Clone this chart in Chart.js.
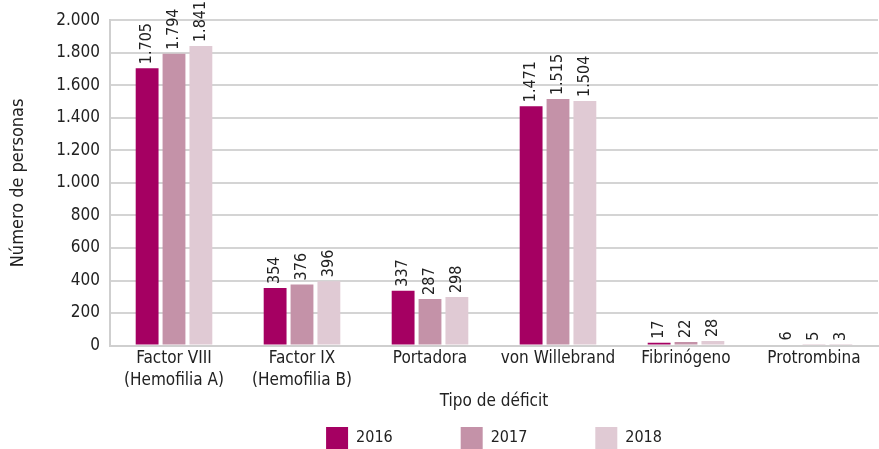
<!DOCTYPE html>
<html>
<head>
<meta charset="utf-8">
<script src="https://cdn.jsdelivr.net/npm/chart.js@4/dist/chart.umd.min.js"></script>
<style>
  html, body { margin: 0; padding: 0; background: #fff; }
  #wrap { width: 879px; height: 449px; }
</style>
</head>
<body>
<div id="wrap"><canvas id="bar-chart"></canvas></div>
<script>
var categories = [["Factor VIII", "(Hemofilia A)"], ["Factor IX", "(Hemofilia B)"], "Portadora", "von Willebrand", "Fibrinógeno", "Protrombina"];
var years = ["2016", "2017", "2018"];
var values2016 = [1705, 354, 337, 1471, 17, 6];
var values2017 = [1794, 376, 287, 1515, 22, 5];
var values2018 = [1841, 396, 298, 1504, 28, 3];
var yTicks = [0, 200, 400, 600, 800, 1000, 1200, 1400, 1600, 1800, 2000];

var colors = ["#a50062", "#c492a8", "#e0cad4"];
var fontFamily = "'Liberation Sans Narrow', 'DejaVu Sans Condensed', sans-serif";

function formatNumber(n) {
  return String(n).replace(/\B(?=(\d{3})+(?!\d))/g, ".");
}

// etiquetas de valor giradas encima de cada barra
var valueLabels = {
  id: "valueLabels",
  afterDatasetsDraw: function (chart) {
    var ctx = chart.ctx;
    ctx.save();
    ctx.font = "16px " + fontFamily;
    ctx.fillStyle = "#222";
    ctx.textAlign = "left";
    ctx.textBaseline = "middle";
    chart.data.datasets.forEach(function (ds, i) {
      chart.getDatasetMeta(i).data.forEach(function (bar, j) {
        ctx.save();
        ctx.translate(bar.x, bar.y - 4);
        ctx.rotate(-Math.PI / 2);
        ctx.fillText(formatNumber(ds.data[j]), 0, 0);
        ctx.restore();
      });
    });
    ctx.restore();
  }
};

// centrar la leyenda sobre el área del gráfico y bajarla un poco
var legendOnArea = {
  id: "legendOnArea",
  afterLayout: function (chart) {
    var lg = chart.legend;
    lg.left = chart.chartArea.left;
    lg.right = chart.chartArea.right;
    lg.top += 11;
    lg.bottom += 11;
  }
};

Chart.defaults.font.family = fontFamily;
Chart.defaults.font.size = 17;
Chart.defaults.color = "#222";

var ctx = document.getElementById("bar-chart").getContext("2d");
var myChart = new Chart(ctx, {
  type: "bar",
  data: {
    labels: categories,
    datasets: [
      { label: years[0], data: values2016, backgroundColor: colors[0] },
      { label: years[1], data: values2017, backgroundColor: colors[1] },
      { label: years[2], data: values2018, backgroundColor: colors[2] }
    ]
  },
  options: {
    responsive: true,
    maintainAspectRatio: false,
    animation: false,
    categoryPercentage: 0.63,
    barPercentage: 0.85,
    layout: { padding: { top: 18, right: 1, left: 0, bottom: 1 } },
    plugins: {
      legend: {
        position: "bottom",
        labels: {
          boxWidth: 22,
          boxHeight: 22,
          padding: 4,
          font: { size: 16 },
          generateLabels: function (chart) {
            var items = Chart.defaults.plugins.legend.labels.generateLabels(chart);
            items.forEach(function (it, i) {
              it.lineWidth = 0;
              if (i < items.length - 1) it.text = it.text + "              ";
            });
            return items;
          }
        }
      },
      tooltip: { enabled: false }
    },
    scales: {
      x: {
        grid: { display: false, drawTicks: false },
        border: { display: true, color: "#cfcfcf", width: 2 },
        ticks: { padding: 2, font: { size: 17, lineHeight: 22 / 17 } },
        title: { display: true, text: "Tipo de déficit", padding: { top: -2, bottom: 0 } }
      },
      y: {
        min: 0,
        max: 2000,
        afterBuildTicks: function (scale) {
          scale.ticks = yTicks.map(function (v) { return { value: v }; });
        },
        afterFit: function (scale) { scale.width = 110; },
        grid: { color: "#d4d4d4", lineWidth: 2, drawTicks: false },
        border: { display: true, color: "#cfcfcf", width: 2 },
        ticks: {
          padding: 10,
          callback: function (v) { return formatNumber(v); }
        },
        title: { display: true, text: "Número de personas", font: { size: 18 }, padding: { top: 8, bottom: 0 } }
      }
    }
  },
  plugins: [valueLabels, legendOnArea]
});
</script>
</body>
</html>
